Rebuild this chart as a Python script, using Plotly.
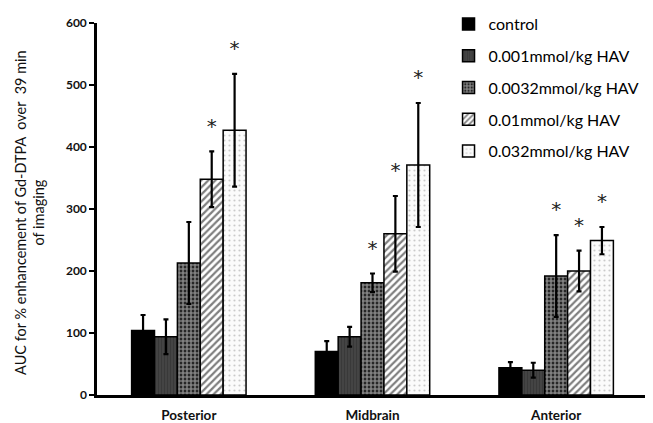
import plotly.graph_objects as go

groups = ["Posterior", "Midbrain", "Anterior"]
series = ["control", "0.001mmol/kg HAV", "0.0032mmol/kg HAV", "0.01mmol/kg HAV", "0.032mmol/kg HAV"]

control_vals = [104, 70, 44]
hav0001_vals = [94, 94, 40]
hav00032_vals = [213, 181, 192]
hav001_vals = [348, 260, 200]
hav0032_vals = [427, 371, 249]

control_err = [25, 17, 9]
hav0001_err = [28, 16, 12]
hav00032_err = [66, 15, 66]
hav001_err = [45, 61, 33]
hav0032_err = [91, 100, 22]

control_sig = [False, False, False]
hav0001_sig = [False, False, False]
hav00032_sig = [False, True, True]
hav001_sig = [True, True, True]
hav0032_sig = [True, True, True]

values = [control_vals, hav0001_vals, hav00032_vals, hav001_vals, hav0032_vals]
errors = [control_err, hav0001_err, hav00032_err, hav001_err, hav0032_err]
sigs = [control_sig, hav0001_sig, hav00032_sig, hav001_sig, hav0032_sig]

patterns = [
    dict(shape="", fgcolor="black", bgcolor="black"),
    dict(shape="|", fgcolor="#2e2e2e", bgcolor="#444444", size=3, solidity=0.4),
    dict(shape=".", fgcolor="white", bgcolor="black", size=4, solidity=0.75),
    dict(shape="/", fgcolor="black", bgcolor="white", size=5, solidity=0.45),
    dict(shape=".", fgcolor="#9a9a9a", bgcolor="#fbfbfb", size=5, solidity=0.15),
]
colors = ["black", "#444444", "black", "white", "#fbfbfb"]

BARGAP = 0.377
n = len(series)
bw = (1 - BARGAP) / n
xs = list(range(len(groups)))

fig = go.Figure()
for i, name in enumerate(series):
    fig.add_trace(go.Bar(
        x=xs, y=values[i], name=name,
        marker=dict(color=colors[i], line=dict(color="black", width=1.5), pattern=patterns[i]),
        error_y=dict(type="data", array=errors[i], visible=True, color="black", thickness=2.2, width=2.5),
        legendgroup=str(i),
    ))

# significance stars
sx, sy = [], []
for i in range(n):
    for g in range(len(groups)):
        if sigs[i][g]:
            sx.append(g + (i - (n - 1) / 2) * bw)
            sy.append(values[i][g] + errors[i][g] + 38)
fig.add_trace(go.Scatter(
    x=sx, y=sy, mode="text", text=["*"] * len(sx), textposition="middle center",
    textfont=dict(size=20, color="#222", family="DejaVu Sans"), showlegend=False, hoverinfo="skip",
))

fig.update_layout(
    width=653, height=423,
    margin=dict(l=89, r=13, t=15, b=36, autoexpand=False),
    plot_bgcolor="white", paper_bgcolor="white",
    barmode="group", bargap=BARGAP, bargroupgap=0,
    font=dict(family="Lato", color="black"),
    legend=dict(x=0.638, y=1.043, xanchor="left", yanchor="top",
                font=dict(size=16, family="Lato", color="black"),
                bgcolor="rgba(0,0,0,0)", traceorder="grouped", tracegroupgap=8,
                itemwidth=30),
    showlegend=True,
)
fig.update_xaxes(
    range=[-0.5, 2.5], tickvals=xs, ticktext=groups,
    showline=True, linecolor="black", linewidth=2.5, ticks="",
    tickfont=dict(size=13.5, weight="bold", color="#111"), showgrid=False, zeroline=False,
    ticklabelstandoff=6,
)
fig.update_yaxes(
    range=[0, 600], dtick=100, showline=True, linecolor="black", linewidth=2.5,
    ticks="outside", ticklen=5, tickwidth=2, tickcolor="black",
    tickfont=dict(size=12, weight="bold", color="#111"), showgrid=False, zeroline=False,
)
fig.add_annotation(
    text="AUC for % enhancement of Gd-DTPA  over  39 min<br>of imaging",
    xref="paper", yref="paper", x=-0.123, y=0.49, xanchor="center", yanchor="middle",
    textangle=-90, showarrow=False, font=dict(size=14.5, family="Lato", color="#111"),
)

fig.write_html("out.html")
